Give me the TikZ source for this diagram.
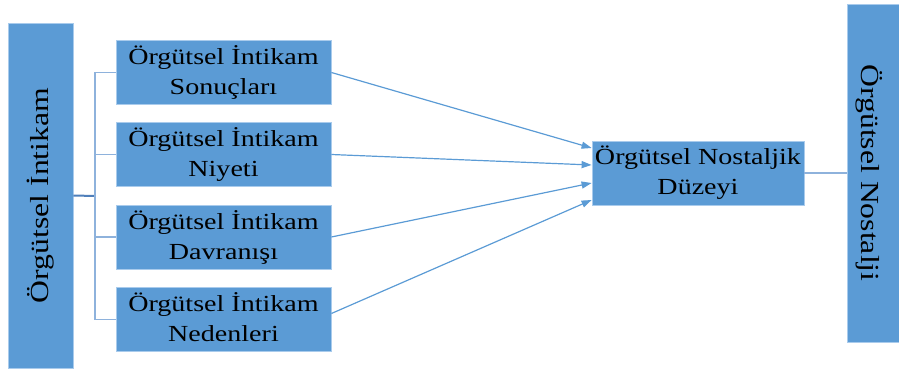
\documentclass[tikz,border=0pt]{standalone}
\usepackage{fontspec}
\setmainfont{Liberation Serif}
\newfontfamily\boxfont[FakeStretch=1.22]{Liberation Serif}
\usetikzlibrary{arrows.meta}
\definecolor{boxblue}{HTML}{5B9BD5}
\definecolor{edgeblue}{HTML}{A9CBEC}
\definecolor{lineblue}{HTML}{5B9BD5}
\definecolor{brackblue}{HTML}{8EB2DC}
\definecolor{stemblue}{HTML}{4F7FBA}
\begin{document}
\begin{tikzpicture}[x=1pt,y=-1pt,
  blockbox/.style={draw=edgeblue, line width=0.8pt, fill=boxblue, inner sep=0pt,
    minimum width=215pt, minimum height=64pt, align=center, text=black,
    font=\boxfont\fontsize{23}{30}\selectfont},
  barbox/.style={draw=edgeblue, line width=0.8pt, fill=boxblue, inner sep=0pt},
  bartext/.style={inner sep=0pt, text=black, font=\boxfont\fontsize{26}{30}\selectfont},
  brack/.style={draw=brackblue, line width=1.4pt},
  stem/.style={draw=stemblue, line width=2pt},
  arrowline/.style={draw=lineblue, line width=1.2pt, -{Triangle[length=10pt,width=7pt]}},
  plainline/.style={draw=brackblue, line width=1.4pt}
]
\useasboundingbox (0,0) rectangle (899,372);
\clip (0,0) rectangle (899,372);

% left bar
\node[barbox, bartext, rotate=90, minimum width=345pt, minimum height=65pt] (L) at (40.5,195.5) {Örgütsel İntikam};

% four boxes
\node[blockbox] (b1) at (223.5,72.5) {Örgütsel İntikam\\Sonuçları\vphantom{g}};
\node[blockbox] (b2) at (223.5,154.5) {Örgütsel İntikam\\Niyeti\vphantom{g}};
\node[blockbox] (b3) at (223.5,237) {Örgütsel İntikam\\Davranışı\vphantom{g}};
\node[blockbox] (b4) at (223.5,319.5) {Örgütsel İntikam\\Nedenleri\vphantom{g}};

% middle box
\node[blockbox, minimum width=212pt] (m) at (698,173) {Örgütsel Nostaljik\\Düzeyi\vphantom{g}};

% right bar
\node[barbox, minimum width=65pt, minimum height=338pt] (R) at (879.5,173) {};
\node[bartext, rotate=-90] (Rt) at (869,173) {Örgütsel Nostalji};

% bracket
\coordinate (j) at (95,196);
\draw[stem] (L.south) -- (j);
\draw[brack] (b1.west) -| (j);
\draw[brack] (b2.west) -| (j);
\draw[brack] (b3.west) -| (j);
\draw[brack] (b4.west) -| (j);

% arrows
\draw[arrowline] (b1.east) -- ([yshift=25pt]m.west);
\draw[arrowline] (b2.east) -- ([yshift=8pt]m.west);
\draw[arrowline] (b3.east) -- ([yshift=-10pt]m.west);
\draw[arrowline] ([yshift=6pt]b4.east) -- ([yshift=-27pt]m.west);

% line to right bar
\draw[plainline] (m.east) -- (R.west);
\end{tikzpicture}
\end{document}
